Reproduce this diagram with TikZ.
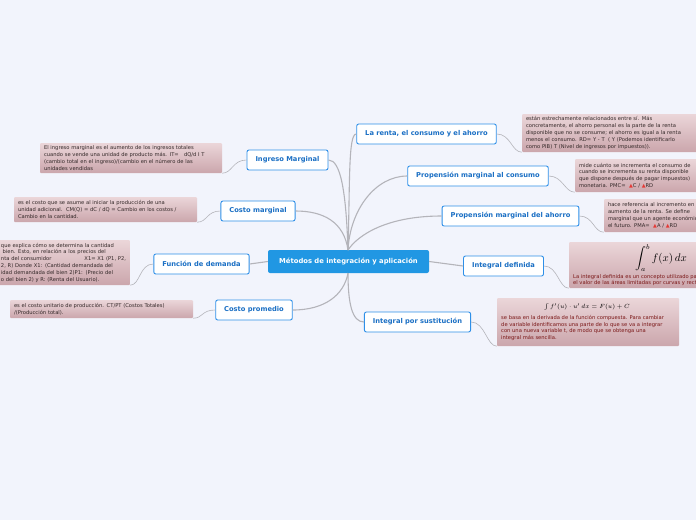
\documentclass[tikz,border=0pt]{standalone}
\usepackage{fontspec}
\setmainfont{DejaVu Sans}
\usepackage{amsmath}
\usetikzlibrary{positioning}
\definecolor{bgcol}{HTML}{F2F4FC}
\definecolor{centerblue}{HTML}{2197E3}
\definecolor{topicblue}{HTML}{2E8FE8}
\definecolor{topictext}{HTML}{1A6FC4}
\definecolor{notetop}{HTML}{EBD6D9}
\definecolor{notebot}{HTML}{CBA6AC}
\definecolor{notetext}{HTML}{332828}
\definecolor{notered}{HTML}{7A1616}
\definecolor{deltared}{HTML}{E53935}
\definecolor{linkgray}{HTML}{B4B4BA}
\newcommand{\tri}{{\color{deltared}\fontsize{5}{5}\selectfont ▲}}
\tikzset{
  central/.style={rectangle,rounded corners=2pt,fill=centerblue,text=white,
    font=\fontsize{6.8}{8}\selectfont\bfseries,minimum width=161pt,minimum height=23pt},
  topic/.style={rectangle,rounded corners=2pt,draw=topicblue,line width=0.9pt,fill=white,
    text=topictext,font=\fontsize{6.7}{8}\selectfont\bfseries,minimum height=20pt,inner xsep=8.5pt},
  note/.style={rectangle,rounded corners=1pt,top color=notetop,bottom color=notebot,
    text=notetext,font=\fontsize{5.2}{6.8}\selectfont,align=left,inner xsep=4pt,inner ysep=2pt},
  notetxt/.style={text=notered,font=\fontsize{5.2}{6.8}\selectfont,align=left,
    anchor=north west,inner sep=0pt},
  link/.style={draw=linkgray,line width=1.1pt},
  sublink/.style={draw=linkgray,line width=0.6pt}
}
\begin{document}
\begin{tikzpicture}[x=1pt,y=-1pt]
  \useasboundingbox (0,0) rectangle (696,520);
  \fill[bgcol] (0,0) rectangle (696,520);
  \clip (0,0) rectangle (696,520);

  % Central topic
  \node[central] (cen) at (348.5,261.5) {Métodos de integración y aplicación};
  \coordinate (hub) at (348,250);
  \coordinate (hubb) at (348,273);

  % Left branches
  \node[topic] (im) at (287.5,160) {Ingreso Marginal};
  \node[topic] (cm) at (258,211) {Costo marginal};
  \node[topic] (fd) at (201.5,264) {Función de demanda};
  \node[topic] (cp) at (254,310) {Costo promedio};

  % Right branches
  \node[topic] (rc) at (426.5,134) {La renta, el consumo y el ahorro};
  \node[topic] (pmc) at (478,176) {Propensión marginal al consumo};
  \node[topic] (pma) at (510.5,216) {Propensión marginal del ahorro};
  \node[topic] (id) at (503.5,266) {Integral definida};
  \node[topic] (ips) at (417.5,322) {Integral por sustitución};

  % Notes, left side
  \node[note,text width=174pt,minimum height=30pt] (imn) at (131,158)
    {El ingreso marginal es el aumento de los ingresos totales\\
     cuando se vende una unidad de producto más. IT=\ \ \ dQ/d I T\\
     (cambio total en el ingreso)/(cambio en el número de las\\
     unidades vendidas};
  \node[note,text width=175pt,minimum height=25pt] (cmn) at (105.5,209.5)
    {es el costo que se asume al iniciar la producción de una\\
     unidad adicional.\ \ CM(Q) = dC / dQ = Cambio en los costos /\\
     Cambio en la cantidad.};
  \node[note,text width=125pt,minimum height=45pt] (fdn) at (63.5,262.5)
    {que explica cómo se determina la cantidad\\
     \ bien. Esto, en relación a los precios del\\
     nta del consumidor\hfill X1= X1 (P1, P2,\\
     2, R) Donde X1: (Cantidad demandada del\\
     idad demandada del bien 2)P1: (Precio del\\
     o del bien 2) y R: (Renta del Usuario).};
  \node[note,text width=175pt,minimum height=18pt] (cpn) at (101.5,309)
    {es el costo unitario de producción. CT/PT (Costos Totales)\\
     /(Producción total).};

  % Notes, right side
  \node[note,text width=177pt,minimum height=38pt] (rcn) at (614.5,133)
    {están estrechamente relacionados entre sí. Más\\
     concretamente, el ahorro personal es la parte de la renta\\
     disponible que no se consume; el ahorro es igual a la renta\\
     menos el consumo. RD= Y - T\ \ ( Y (Podemos identificarlo\\
     como PIB) T (Nivel de ingresos por impuestos)).};
  \node[note,text width=172pt,minimum height=33pt] (pmcn) at (665,175.5)
    {mide cuánto se incrementa el consumo de\\
     cuando se incrementa su renta disponible\\
     que dispone después de pagar impuestos)\\
     monetaria. PMC=\ \ \tri C / \tri RD};
  \node[note,text width=142pt,minimum height=33pt] (pman) at (679,215.5)
    {hace referencia al incremento en\\
     aumento de la renta. Se define\\
     marginal que un agente económico\\
     el futuro. PMA=\ \ \tri A / \tri RD};
  \node[note,minimum width=180pt,minimum height=46pt] (idn) at (659,265) {};
  \node[font=\fontsize{10.5}{12}\selectfont] (idf) at (661,258) {$\displaystyle\int_a^b f(x)\,dx$};
  \node[notetxt] (idt) at (573,274)
    {La integral definida es un concepto utilizado para determinar\\
     el valor de las áreas limitadas por curvas y rectas.};
  \node[note,minimum width=182pt,minimum height=48pt] (ipsn) at (588,322) {};
  \node[font=\fontsize{6.3}{8}\selectfont] (ipsf) at (587,307) {$\int f'(u)\cdot u'\,dx = F(u)+C$};
  \node[notetxt] (ipst) at (501,315)
    {se basa en la derivada de la función compuesta. Para cambiar\\
     de variable identificamos una parte de lo que se va a integrar\\
     con una nueva variable t, de modo que se obtenga una\\
     integral más sencilla.};

  % Main connectors
  \draw[link] (im.east) .. controls +(12,0) and +(-2,-60) .. (hub);
  \draw[link] (cm.east) .. controls +(28,0) and +(-4,-28) .. (hub);
  \draw[link] (fd.east) -- (cen.west);
  \draw[link] (cp.east) .. controls +(32,0) and +(-4,22) .. (hubb);
  \draw[link] (rc.west) .. controls +(-8,0) and +(2,-70) .. (hub);
  \draw[link] (pmc.west) .. controls +(-32,0) and +(2,-40) .. (hub);
  \draw[link] (pma.west) .. controls +(-55,0) and +(10,-15) .. (hub);
  \draw[link] (cen.east) -- (id.west);
  \draw[link] (ips.west) .. controls +(-12,0) and +(0,30) .. (hubb);

  % Note connectors
  \draw[sublink] (im.west) .. controls +(-14,0) and +(10,0) .. (imn.south east);
  \draw[sublink] (cm.west) .. controls +(-14,0) and +(10,0) .. (cmn.south east);
  \draw[sublink] (fd.west) .. controls +(-14,0) and +(10,0) .. (fdn.south east);
  \draw[sublink] (cp.west) .. controls +(-14,0) and +(10,0) .. (cpn.south east);
  \draw[sublink] (rc.east) .. controls +(14,0) and +(-10,0) .. (rcn.south west);
  \draw[sublink] (pmc.east) .. controls +(14,0) and +(-10,0) .. (pmcn.south west);
  \draw[sublink] (pma.east) .. controls +(14,0) and +(-10,0) .. (pman.south west);
  \draw[sublink] (id.east) .. controls +(14,0) and +(-10,0) .. (idn.south west);
  \draw[sublink] (ips.east) .. controls +(14,0) and +(-10,0) .. (ipsn.south west);
\end{tikzpicture}
\end{document}
